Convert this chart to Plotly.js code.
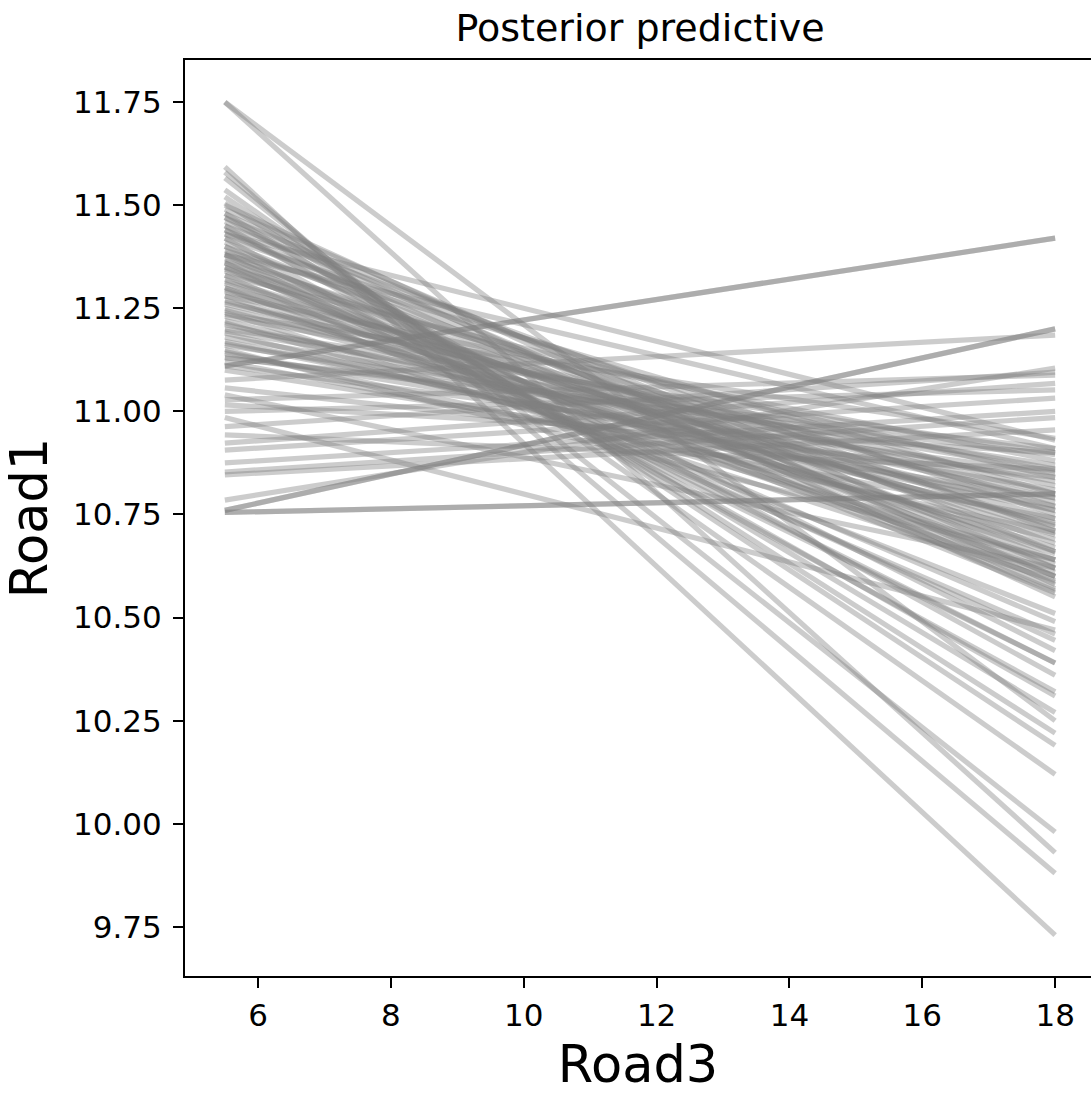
<!DOCTYPE html>
<html>
<head>
<meta charset="utf-8">
<script src="https://cdn.plot.ly/plotly-3.0.1.min.js"></script>
<style>html,body{margin:0;padding:0;background:#fff;}#chart{width:1091px;height:1094px;}</style>
</head>
<body>
<div id="chart"></div>
<script>
// x positions of every posterior line (Road3)
const xEnds = [5.5, 18];

// Road1 value at x = 5.5 for each posterior draw
const startValues = [
  11.11, 11.11, 10.76, 10.76, 10.755, 10.755,
  11.076, 10.785, 10.963, 11.028, 10.923, 11.0, 10.906, 10.875, 10.853, 10.846, 11.016, 10.943, 11.057,
  10.985, 11.04,
  11.75, 11.75, 11.593, 11.58, 11.566, 11.537, 11.52, 11.505, 11.48, 11.45, 11.42, 11.47, 11.40, 11.38, 11.44, 11.36, 11.33, 11.35, 11.30, 11.43, 11.38,
  11.50, 11.49, 11.48, 11.47, 11.46, 11.45, 11.44, 11.43, 11.42, 11.41, 11.40, 11.39, 11.38, 11.37, 11.36, 11.35, 11.34, 11.33, 11.32, 11.31,
  11.30, 11.29, 11.28, 11.27, 11.26, 11.25, 11.24, 11.23, 11.22, 11.21, 11.20, 11.19, 11.18, 11.17, 11.16, 11.15, 11.14, 11.13, 11.12, 11.11,
  11.10, 11.365, 11.315, 11.265, 11.215, 11.165, 11.345, 11.295, 11.245, 11.195, 11.145, 11.385, 11.235, 11.13, 11.28
];

// Road1 value at x = 18 for each posterior draw
const endValues = [
  11.42, 11.42, 11.20, 11.20, 10.80, 10.80,
  11.185, 11.105, 11.095, 11.088, 11.068, 11.052, 11.032, 11.00, 10.985, 10.955, 10.90, 10.86, 10.84,
  10.47, 10.62,
  9.93, 10.25, 9.73, 9.88, 9.98, 10.12, 10.19, 10.22, 10.27, 10.31, 10.32, 10.36, 10.39, 10.39, 10.42, 10.445, 10.46, 10.49, 10.51, 10.93, 10.91,
  10.58, 10.62, 10.55, 10.66, 10.60, 10.71, 10.57, 10.64, 10.75, 10.60, 10.68, 10.80, 10.63, 10.72, 10.56, 10.77, 10.66, 10.84, 10.70, 10.61,
  10.78, 10.74, 10.88, 10.67, 10.82, 10.76, 10.59, 10.86, 10.73, 10.79, 10.90, 10.69, 10.83, 10.76, 10.87, 10.64, 10.81, 10.91, 10.74, 10.85,
  10.79, 10.62, 10.71, 10.80, 10.64, 10.77, 10.585, 10.655, 10.725, 10.855, 10.705, 10.565, 10.935, 10.895, 10.60
];

const xTicks = [6, 8, 10, 12, 14, 16, 18];
const yTicks = [9.75, 10.00, 10.25, 10.50, 10.75, 11.00, 11.25, 11.50, 11.75];

const traces = startValues.map((s, i) => ({
  type: 'scatter',
  mode: 'lines',
  x: xEnds,
  y: [s, endValues[i]],
  line: {color: 'rgba(128,128,128,0.4)', width: 5.2},
  hoverinfo: 'skip',
  showlegend: false
}));

const font = {family: 'DejaVu Sans, sans-serif', color: '#000'};

const layout = {
  width: 1091,
  height: 1094,
  margin: {l: 185, r: 0, t: 60, b: 118},
  paper_bgcolor: '#fff',
  plot_bgcolor: '#fff',
  font: Object.assign({size: 31}, font),
  showlegend: false,
  title: {
    text: 'Posterior predictive',
    font: Object.assign({size: 38}, font),
    xref: 'container', x: 640 / 1091, xanchor: 'center',
    yref: 'container', y: 1 - 28 / 1094, yanchor: 'middle'
  },
  xaxis: {
    range: [4.9, 18.54],
    tickmode: 'array',
    tickvals: xTicks,
    ticktext: xTicks.map(String),
    ticks: 'outside', ticklen: 10, tickwidth: 2, tickcolor: '#000',
    ticklabelstandoff: 1,
    tickfont: Object.assign({size: 31}, font),
    showgrid: false, zeroline: false,
    showline: true, linecolor: '#000', linewidth: 2, mirror: true,
    title: {text: 'Road3', font: Object.assign({size: 51}, font), standoff: 18}
  },
  yaxis: {
    range: [9.631, 11.852],
    tickmode: 'array',
    tickvals: yTicks,
    ticktext: yTicks.map(v => v.toFixed(2)),
    ticks: 'outside', ticklen: 10, tickwidth: 2, tickcolor: '#000',
    ticklabelstandoff: 5,
    tickfont: Object.assign({size: 31}, font),
    showgrid: false, zeroline: false,
    showline: true, linecolor: '#000', linewidth: 2, mirror: false,
    title: {text: 'Road1', font: Object.assign({size: 51}, font), standoff: 9}
  }
};

Plotly.newPlot('chart', traces, layout, {displayModeBar: false, staticPlot: true});
</script>
</body>
</html>
